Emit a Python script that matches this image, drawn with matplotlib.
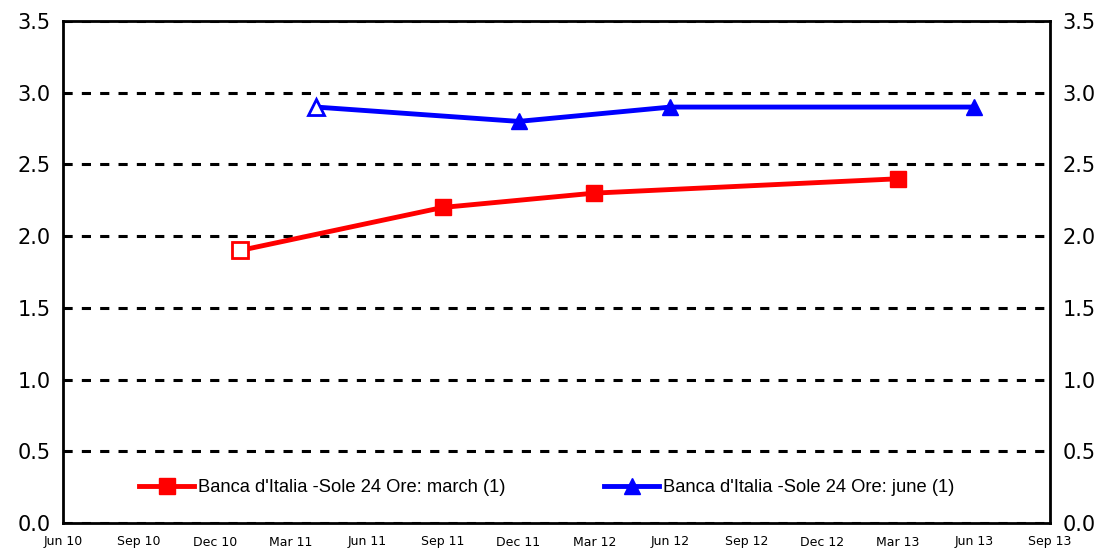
import matplotlib.pyplot as plt

# mesi dall'inizio (Jun 10 = 0)
tick_labels = ["Jun 10", "Sep 10", "Dec 10", "Mar 11", "Jun 11", "Sep 11", "Dec 11",
               "Mar 12", "Jun 12", "Sep 12", "Dec 12", "Mar 13", "Jun 13", "Sep 13"]
tick_pos = [i * 3 for i in range(len(tick_labels))]

march_x = [7, 15, 21, 33]
march_y = [1.9, 2.2, 2.3, 2.4]
june_x = [10, 18, 24, 36]
june_y = [2.9, 2.8, 2.9, 2.9]

fig = plt.figure(figsize=(11.09, 5.51), dpi=100)
ax = fig.add_axes([63 / 1109, 28 / 551, 987 / 1109, 502 / 551])

ax.plot(march_x, march_y, color="red", lw=3.5, marker="s", ms=11,
        label="Banca d'Italia -Sole 24 Ore: march (1)", zorder=3)
ax.plot(march_x[:1], march_y[:1], ls="none", marker="s", ms=11, mfc="white",
        mec="red", mew=2, zorder=4)
ax.plot(june_x, june_y, color="blue", lw=3.5, marker="^", ms=11,
        label="Banca d'Italia -Sole 24 Ore: june (1)", zorder=3)
ax.plot(june_x[:1], june_y[:1], ls="none", marker="^", ms=11, mfc="white",
        mec="blue", mew=2, zorder=4)

ax.set_xlim(0, 39)
ax.set_ylim(0, 3.5)
ax.set_xticks(tick_pos)
ax.set_xticklabels(tick_labels, fontsize=9, family="DejaVu Sans")
ax.set_yticks([0, 0.5, 1, 1.5, 2, 2.5, 3, 3.5])
ax.set_yticklabels([f"{v:.1f}" for v in ax.get_yticks()], fontsize=15)
ax.tick_params(axis="y", length=0, pad=9, labelright=True, right=True)
ax.tick_params(axis="x", length=0, pad=9)
ax.grid(axis="y", color="black", ls=(0, (3, 3)), lw=2.2)
for s in ax.spines.values():
    s.set_linewidth(2)

ax.legend(loc="lower center", bbox_to_anchor=(0.49, 0.02), ncol=2, frameon=False,
          prop={"family": "Liberation Sans", "size": 13.2}, handlelength=3,
          columnspacing=5.4, handletextpad=0.2)

fig.savefig("out.png", dpi=100)
